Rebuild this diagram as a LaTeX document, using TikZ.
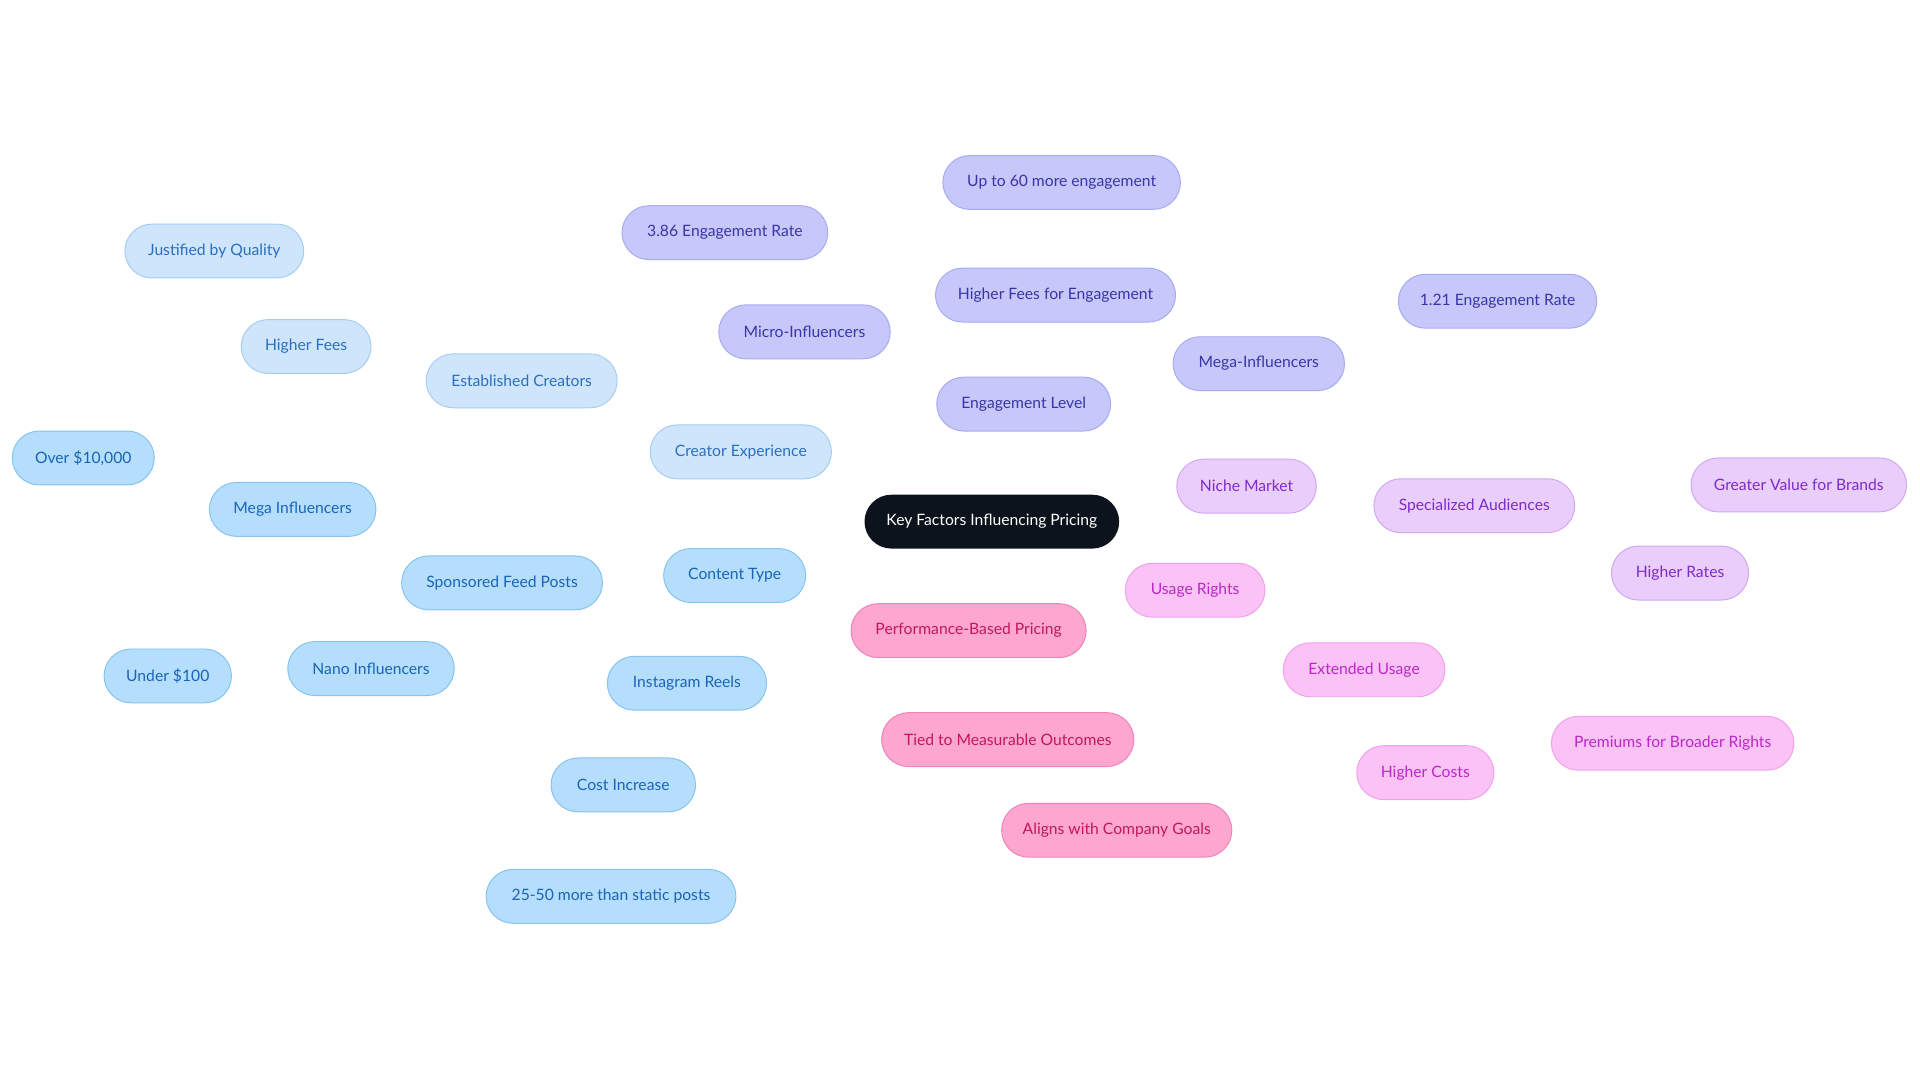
\documentclass[tikz,border=0pt]{standalone}
\usepackage{fontspec}
\setmainfont{Lato}
\usetikzlibrary{backgrounds}
\definecolor{bF}{HTML}{B5DEFC}\definecolor{bT}{HTML}{1A64B8}\definecolor{bS}{HTML}{86C3EF}\definecolor{bE}{HTML}{72B8EA}
\definecolor{cF}{HTML}{CFE5FB}\definecolor{cT}{HTML}{2A6FC0}\definecolor{cS}{HTML}{A6CDF2}\definecolor{cE}{HTML}{93C4EE}
\definecolor{eF}{HTML}{C6C8FA}\definecolor{eT}{HTML}{3B34A8}\definecolor{eS}{HTML}{A9ABF2}\definecolor{eE}{HTML}{9496EA}
\definecolor{nF}{HTML}{E9CDFA}\definecolor{nT}{HTML}{7E2BC8}\definecolor{nS}{HTML}{D2A8F3}\definecolor{nE}{HTML}{C594EF}
\definecolor{uF}{HTML}{FBC2F6}\definecolor{uT}{HTML}{BB28C8}\definecolor{uS}{HTML}{F1A0EC}\definecolor{uE}{HTML}{EC88E6}
\definecolor{pF}{HTML}{FDA6CF}\definecolor{pT}{HTML}{C0185F}\definecolor{pS}{HTML}{F084B8}\definecolor{pE}{HTML}{EA6AA6}
\definecolor{rootF}{HTML}{0D131C}
\tikzset{
 x=0.5pt,y=-0.5pt,
 box/.style={rounded corners=11pt,minimum height=22pt,inner sep=0pt,font=\fontsize{6.4}{7}\selectfont,line width=0.4pt},
 bb/.style={box,fill=bF,draw=bS,text=bT},
 cb/.style={box,fill=cF,draw=cS,text=cT},
 eb/.style={box,fill=eF,draw=eS,text=eT},
 nb/.style={box,fill=nF,draw=nS,text=nT},
 ub/.style={box,fill=uF,draw=uS,text=uT},
 pb/.style={box,fill=pF,draw=pS,text=pT},
 ln/.style={line width=0.8pt},
}
\begin{document}
\begin{tikzpicture}
\useasboundingbox[fill=white] (0,0) rectangle (1568,884.5);
\node[box,fill=rootF,text=white,minimum width=104pt] (root) at (810,426) {Key Factors Influencing Pricing};
\node[cb,minimum width=74pt] (ce) at (605,369) {Creator Experience};
\node[cb,minimum width=78pt] (ec) at (426,311) {Established Creators};
\node[cb,minimum width=53pt] (hf) at (250,283) {Higher Fees};
\node[cb,minimum width=73pt] (jq) at (175,205) {Justified by Quality};
\node[bb,minimum width=58pt] (ct) at (600,470) {Content Type};
\node[bb,minimum width=82pt] (sf) at (410,476) {Sponsored Feed Posts};
\node[bb,minimum width=68pt] (mi) at (239,416) {Mega Influencers};
\node[bb,minimum width=58pt] (ov) at (68,374) {Over \$10,000};
\node[bb,minimum width=68pt] (ni) at (303,546) {Nano Influencers};
\node[bb,minimum width=52pt] (un) at (137,552) {Under \$100};
\node[bb,minimum width=65pt] (ir) at (561,558) {Instagram Reels};
\node[bb,minimum width=59pt] (ci) at (509,641) {Cost Increase};
\node[bb,minimum width=102pt] (tf) at (499,732) {25-50 more than static posts};
\node[eb,minimum width=71pt] (el) at (836,330) {Engagement Level};
\node[eb,minimum width=70pt] (mc) at (657,271) {Micro-Influencers};
\node[eb,minimum width=84pt] (e386) at (592,190) {3.86 Engagement Rate};
\node[eb,minimum width=98pt] (hfe) at (862,241) {Higher Fees for Engagement};
\node[eb,minimum width=97pt] (up) at (867,149) {Up to 60 more engagement};
\node[eb,minimum width=70pt] (mg) at (1028,297) {Mega-Influencers};
\node[eb,minimum width=81pt] (e121) at (1223,246) {1.21 Engagement Rate};
\node[nb,minimum width=57pt] (nm) at (1018,397) {Niche Market};
\node[nb,minimum width=82pt] (sa) at (1204,413) {Specialized Audiences};
\node[nb,minimum width=56pt] (hr) at (1372,468) {Higher Rates};
\node[nb,minimum width=88pt] (gv) at (1469,396) {Greater Value for Brands};
\node[ub,minimum width=57pt] (ur) at (976,482) {Usage Rights};
\node[ub,minimum width=66pt] (eu) at (1114,547) {Extended Usage};
\node[ub,minimum width=56pt] (hc) at (1164,631) {Higher Costs};
\node[ub,minimum width=99pt] (pr) at (1366,607) {Premiums for Broader Rights};
\node[pb,minimum width=96pt] (pp) at (791,515) {Performance-Based Pricing};
\node[pb,minimum width=103pt] (tm) at (823,604) {Tied to Measurable Outcomes};
\node[pb,minimum width=94pt] (ag) at (912,678) {Aligns with Company Goals};
\begin{pgfonlayer}{background}
\draw[ln,cE] (root.center)--(ce.center) (ce.center)--(ec.center) (ec.center)--(hf.center) (hf.center)--(jq.center);
\draw[ln,bE] (root.center)--(ct.center) (ct.center)--(sf.center) (sf.center)--(mi.center) (mi.center)--(ov.center)
 (sf.center)--(ni.center) (ni.center)--(un.center) (ct.center)--(ir.center) (ir.center)--(ci.center) (ci.center)--(tf.center);
\draw[ln,eE] (root.center)--(el.center) (el.center)--(mc.center) (mc.center)--(e386.center) (el.center)--(hfe.center)
 (hfe.center)--(up.center) (el.center)--(mg.center) (mg.center)--(e121.center);
\draw[ln,nE] (root.center)--(nm.center) (nm.center)--(sa.center) (sa.center)--(hr.center) (hr.center)--(gv.center);
\draw[ln,uE] (root.center)--(ur.center) (ur.center)--(eu.center) (eu.center)--(hc.center) (hc.center)--(pr.center);
\draw[ln,pE] (root.center)--(pp.center) (pp.center)--(tm.center) (tm.center)--(ag.center);
\end{pgfonlayer}
\end{tikzpicture}
\end{document}
